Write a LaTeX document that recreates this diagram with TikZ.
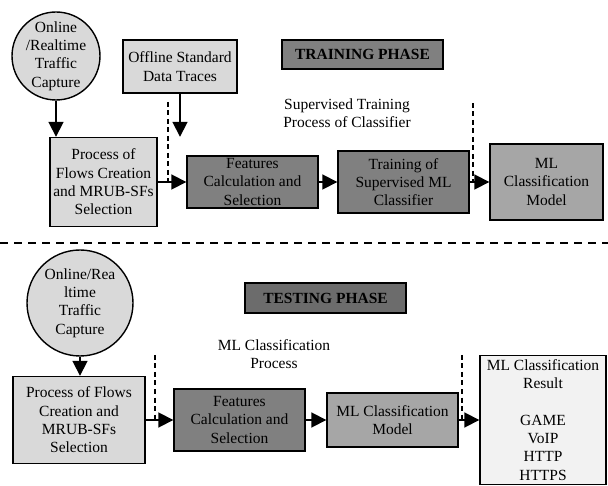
\documentclass[tikz,border=0pt]{standalone}
\usepackage{fontspec}
\setmainfont{Liberation Serif}
\usetikzlibrary{positioning,arrows.meta}

\definecolor{lightbox}{RGB}{217,217,217}
\definecolor{darkbox}{RGB}{128,128,128}
\definecolor{midbox}{RGB}{166,166,166}
\definecolor{palebox}{RGB}{242,242,242}
\definecolor{phasebox}{RGB}{108,108,108}
\newcommand{\figfont}{\fontsize{15.5}{18.3}\selectfont}

\begin{document}
\begin{tikzpicture}[x=1pt,y=-1pt,
		every node/.style={font=\figfont,align=center,inner sep=0pt},
		stage/.style={draw,line width=1.4pt,fill=#1},
		capture/.style={draw,circle,line width=1.4pt,fill=lightbox},
		flow/.style={line width=1.8pt,-{Triangle[length=15pt,width=15pt]}},
		sep/.style={line width=1.3pt,dash pattern=on 5pt off 3.5pt}]
		\useasboundingbox (0,0) rectangle (608,486);
		% training phase
		\node[capture,minimum size=88pt] (cap1) at (56,56) {};
		\node (cap1t) at (cap1) {Online\\/Realtime\\Traffic\\Capture};
		\node[stage=lightbox,minimum width=114pt,minimum height=53pt] (off) at (180,66.5) {Offline Standard\\Data Traces};
		\node[stage=lightbox,minimum width=107pt,minimum height=89pt] (proc1) at (103.5,182) {Process of\\Flows Creation\\and MRUB-SFs\\Selection};
		\node[stage=darkbox,minimum width=131pt,minimum height=52pt] (feat1) at (252.5,182) {Features\\Calculation and\\Selection};
		\node[stage=darkbox,minimum width=131pt,minimum height=62pt] (train) at (403.5,182) {Training of\\Supervised ML\\Classifier};
		\node[stage=midbox,minimum width=113pt,minimum height=76pt] (model1) at (546.5,182) {ML\\Classification\\Model};
		\node[stage=darkbox,minimum width=161pt,minimum height=29pt,font=\figfont\bfseries] (phase1) at (362.5,54.5) {TRAINING PHASE};
		\node (sup) at (347,113) {Supervised Training\\Process of Classifier};
		\coordinate (d1a) at (168,102);
		\coordinate (d1b) at (168,182);
		\coordinate (d2a) at (473,103);
		\coordinate (d2b) at (473,182);
		\draw[flow] (cap1) -- (cap1 |- proc1.north);
		\draw[flow] (off) -- (off |- proc1.north);
		\draw[flow] (proc1) -- (feat1);
		\draw[flow] (feat1) -- (train);
		\draw[flow] (train) -- (model1);
		\draw[sep] (d1a) -- (d1b);
		\draw[sep] (d2a) -- (d2b);
		% split
		\coordinate (s1) at (0,243);
		\coordinate (s2) at (608,243);
		\draw[line width=1.3pt,dash pattern=on 8pt off 6pt] (s1) -- (s2);
		% testing phase
		\node[capture,minimum size=106pt] (cap2) at (80,303) {};
		\node (cap2t) at (cap2) {Online/Rea\\ltime\\Traffic\\Capture};
		\node[stage=lightbox,minimum width=132pt,minimum height=87pt] (proc2) at (79,420) {Process of Flows\\Creation and\\MRUB-SFs\\Selection};
		\node[stage=darkbox,minimum width=131pt,minimum height=62pt] (feat2) at (239.5,420) {Features\\Calculation and\\Selection};
		\node[stage=midbox,minimum width=131pt,minimum height=54pt] (model2) at (392.5,420) {ML Classification\\Model};
		\node[stage=palebox,minimum width=126pt,minimum height=129pt] (result) at (543,420) {ML Classification\\Result\\[18pt]GAME\\VoIP\\HTTP\\HTTPS};
		\node[stage=phasebox,minimum width=161pt,minimum height=30pt,font=\figfont\bfseries] (phase2) at (325.5,298) {TESTING PHASE};
		\node (mlp) at (274,354) {ML Classification\\Process};
		\coordinate (d3a) at (155,355);
		\coordinate (d3b) at (155,420);
		\coordinate (d4a) at (462,355);
		\coordinate (d4b) at (462,420);
		\draw[flow] (cap2) -- (cap2 |- proc2.north);
		\draw[flow] (proc2) -- (feat2);
		\draw[flow] (feat2) -- (model2);
		\draw[flow] (model2) -- (result);
		\draw[sep] (d3a) -- (d3b);
		\draw[sep] (d4a) -- (d4b);
	\end{tikzpicture}
\end{document}
